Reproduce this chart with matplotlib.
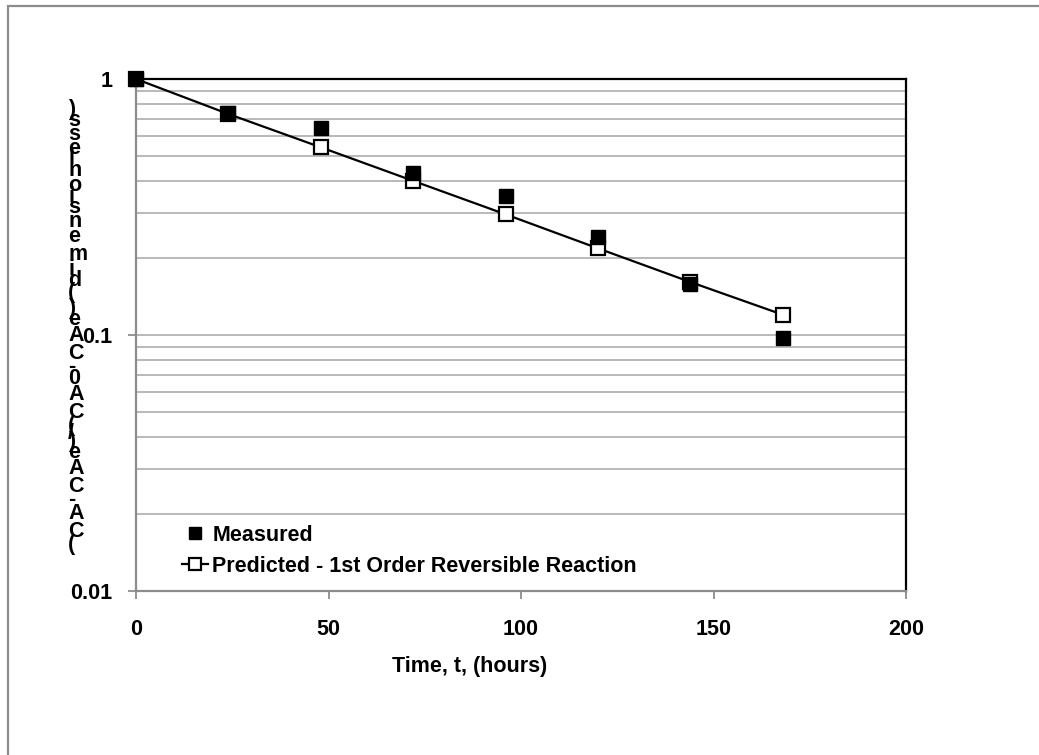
import numpy as np
import matplotlib.pyplot as plt
from matplotlib.patches import Rectangle
from matplotlib.ticker import FixedLocator, NullFormatter
from matplotlib.textpath import TextToPath
from matplotlib.font_manager import FontProperties

plt.rcParams['font.family'] = ['Liberation Sans', 'DejaVu Sans']
plt.rcParams['font.weight'] = 'bold'

# data
time_h = [0, 24, 48, 72, 96, 120, 144, 168]
measured = [1.0, 0.735, 0.643, 0.43, 0.349, 0.241, 0.158, 0.097]
predicted = [1.0, 0.73, 0.541, 0.40, 0.296, 0.218, 0.161, 0.12]

x_ticks = [0, 50, 100, 150, 200]
y_ticks = [0.01, 0.1, 1]
y_ticklabels = ["0.01", "0.1", "1"]
y_label = "(CA-CAe)/(CA0-CAe) (dimensionless)"
x_label = "Time, t, (hours)"

W, H = 1039, 755
FS = 15.5

fig = plt.figure(figsize=(W / 100, H / 100), dpi=100)
ax = fig.add_axes([136 / W, 1 - 591 / H, 770 / W, 512 / H])

# outer chart border (Excel chart area)
fig.patches.append(Rectangle((8 / W, -0.05), 1.1, 1 - 6 / H + 0.05,
                             transform=fig.transFigure, fill=False,
                             edgecolor="#8c8c8c", lw=1.6, zorder=0))

ax.plot(time_h, predicted, "-s", color="black", lw=1.6, ms=9.5,
        mfc="white", mec="black", mew=1.6, zorder=3, clip_on=False,
        label="Predicted - 1st Order Reversible Reaction")
ax.plot(time_h, measured, "s", color="black", ms=10.5, zorder=4,
        clip_on=False, label="Measured")

ax.set_yscale("log")
ax.set_xlim(0, 200)
ax.set_ylim(0.01, 1)
ax.xaxis.set_major_locator(FixedLocator(x_ticks))
ax.yaxis.set_major_locator(FixedLocator(y_ticks))
ax.set_yticklabels(y_ticklabels)
ax.yaxis.set_minor_locator(FixedLocator(
    [m * d for d in (0.01, 0.1) for m in range(2, 10)]))
ax.yaxis.set_minor_formatter(NullFormatter())
ax.grid(True, which="both", axis="y", color="#b3b3b3", lw=1.3)
ax.set_axisbelow(True)

ax.tick_params(axis="y", which="minor", length=0)
ax.tick_params(axis="both", which="major", direction="out", length=6,
               width=1.3, color="#8c8c8c", labelsize=FS)
ax.tick_params(axis="y", which="major", pad=11)
ax.tick_params(axis="x", which="major", pad=14)
for lab in ax.get_xticklabels() + ax.get_yticklabels():
    lab.set_fontweight("bold")

for side in ("left", "bottom"):
    ax.spines[side].set_color("#8c8c8c")
    ax.spines[side].set_linewidth(1.6)
for side in ("top", "right"):
    ax.spines[side].set_color("black")
    ax.spines[side].set_linewidth(1.6)

ax.set_xlabel(x_label, fontsize=FS, fontweight="bold")
ax.xaxis.set_label_coords((470 - 136) / 770, -(656 - 591) / 512)

# y label: upright glyphs stacked bottom-to-top, as in the source picture
fp = FontProperties(family="Liberation Sans", weight="bold", size=FS)
ttp = TextToPath()
widths = [ttp.get_text_width_height_descent(c, fp, ismath=False)[0]
          for c in y_label]
total = sum(widths)
y_bot, y_top = 549, 105
k = (y_bot - y_top) / total
pos = 0.0
for c, w in zip(y_label, widths):
    yc = y_bot - (pos + w / 2) * k
    fig.text(68 / W, 1 - yc / H, c, ha="left", va="center",
             fontsize=FS, fontweight="bold")
    pos += w

handles, labels = ax.get_legend_handles_labels()
ax.legend(handles[::-1], labels[::-1], loc="upper left",
          bbox_to_anchor=(182 / W, 1 - 525 / H),
          bbox_transform=fig.transFigure, frameon=False, fontsize=FS,
          handlelength=1.2, handletextpad=0.2, borderpad=0,
          borderaxespad=0, labelspacing=0.45, markerscale=0.85,
          prop={"weight": "bold", "size": FS})

fig.savefig("out.png", dpi=100)
